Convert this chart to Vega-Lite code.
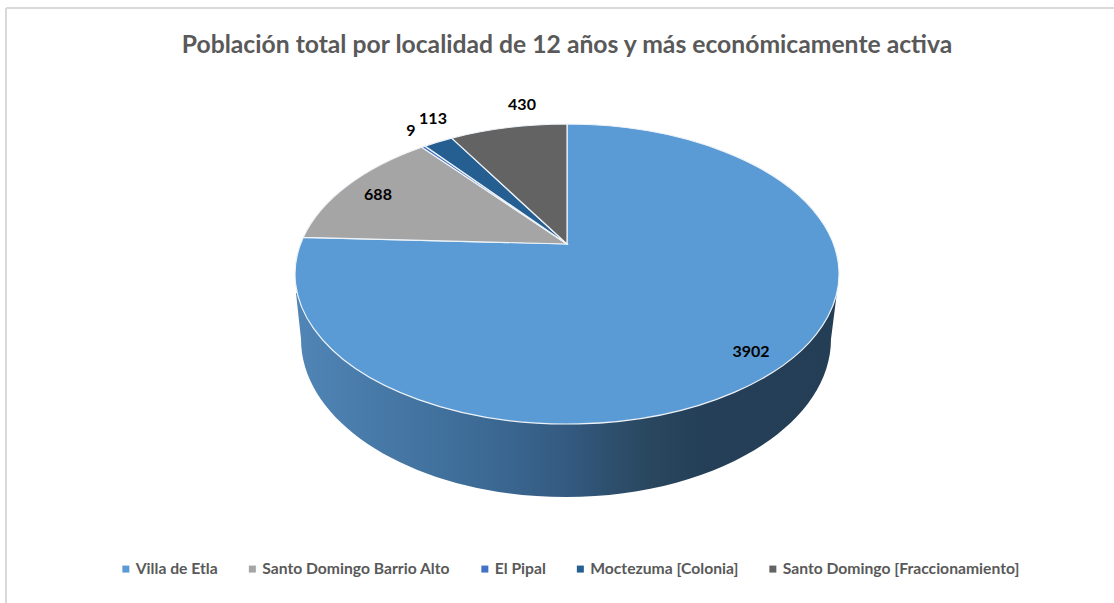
{
"$schema":"https://vega.github.io/schema/vega-lite/v6.json",
"width":1108,"height":595,
"autosize":{"type":"none"},
"padding":{"left":6,"top":8,"right":0,"bottom":0},
"background":"#ffffff",
"view":{"stroke":null},
"title":{"text":"Población total por localidad  de 12 años y más económicamente activa","font":"Lato","fontSize":24.7,"fontWeight":"bold","color":"#595959","anchor":"middle","dx":7,"offset":-71,"baseline":"alphabetic"},
"data":{"values":[
{"localidad":"Villa de Etla","poblacion":3902},
{"localidad":"Santo Domingo Barrio Alto","poblacion":688},
{"localidad":"El Pipal","poblacion":9},
{"localidad":"Moctezuma [Colonia]","poblacion":113},
{"localidad":"Santo Domingo [Fraccionamiento]","poblacion":430}
]},
"layer":[
{"transform":[{"filter":"datum.localidad==='Villa de Etla'"}],"mark":{"type":"rule","color":"#d9d9d9","strokeWidth":2},"encoding":{"x":{"value":0},"x2":{"value":1108},"y":{"value":0}}},
{"transform":[{"filter":"datum.localidad==='Villa de Etla'"}],"mark":{"type":"rule","color":"#d9d9d9","strokeWidth":2},"encoding":{"y":{"value":0},"y2":{"value":595},"x":{"value":0}}},
{"transform":[{"filter":"datum.localidad==='Villa de Etla'"}],
 "mark":{"type":"point","filled":true,"opacity":1,"size":360000,"strokeWidth":0,
  "shape":"M-0.88,-0.04167 L-0.86333,0.11167 A0.88333,0.52667 0 0 0 0.90333,0.11167 L0.92333,-0.045 Z",
  "fill":{"x1":0,"y1":0,"x2":1,"y2":0,"gradient":"linear","stops":[{"offset":0,"color":"#5085b6"},{"offset":0.35,"color":"#3c6a95"},{"offset":0.5,"color":"#345a80"},{"offset":0.65,"color":"#29475f"},{"offset":0.76,"color":"#243f57"},{"offset":1,"color":"#233e55"}]}},
 "encoding":{}},
{"mark":{"type":"point","filled":true,"opacity":1,"size":360000,"stroke":"#eef3f8","strokeWidth":1.2},
 "encoding":{
  "fill":{"field":"localidad","type":"nominal","scale":{"domain":["Villa de Etla","Santo Domingo Barrio Alto","El Pipal","Moctezuma [Colonia]","Santo Domingo [Fraccionamiento]"],"range":["#5b9bd5","#a5a5a5","#4472c4","#255e91","#636363"]},
   "legend":{"title":null,"orient":"none","legendX":112,"legendY":553,"direction":"horizontal","columns":5,"columnPadding":26.5,"symbolType":"square","symbolSize":49,"symbolStrokeWidth":0,"labelFont":"Lato","labelFontSize":15.7,"labelFontWeight":"bold","labelColor":"#595959","labelOffset":2,"labelLimit":400}},
  "shape":{"field":"localidad","type":"nominal","legend":null,"scale":{"domain":["Santo Domingo [Fraccionamiento]","Moctezuma [Colonia]","El Pipal","Santo Domingo Barrio Alto","Villa de Etla"],"range":[
   "M0.02333,-0.205 L-0.361,-0.558 A0.90667,0.5 0 0 1 0.02333,-0.605 Z",
   "M0.02333,-0.205 L-0.45,-0.53133 A0.90667,0.5 0 0 1 -0.361,-0.558 Z",
   "M0.02333,-0.205 L-0.461,-0.52767 A0.90667,0.5 0 0 1 -0.45,-0.53133 Z",
   "M0.02333,-0.205 L-0.85567,-0.22733 A0.90667,0.5 0 0 1 -0.461,-0.52767 Z",
   "M0.02333,-0.205 L0.02333,-0.605 A0.90667,0.5 0 1 1 -0.85567,-0.22733 Z"]}}
 }},
{"transform":[{"filter":"datum.localidad==='Villa de Etla'"}],"mark":{"type":"text","font":"Lato","fontSize":16,"fontWeight":"bold","color":"#000000","dx":191,"dy":46.5},"encoding":{"text":{"field":"poblacion","type":"quantitative","format":"d"}}},
{"transform":[{"filter":"datum.localidad==='Santo Domingo Barrio Alto'"}],"mark":{"type":"text","font":"Lato","fontSize":16,"fontWeight":"bold","color":"#000000","dx":-182,"dy":-110.5},"encoding":{"text":{"field":"poblacion","type":"quantitative","format":"d"}}},
{"transform":[{"filter":"datum.localidad==='El Pipal'"}],"mark":{"type":"text","font":"Lato","fontSize":16,"fontWeight":"bold","color":"#000000","dx":-149,"dy":-174.5},"encoding":{"text":{"field":"poblacion","type":"quantitative","format":"d"}}},
{"transform":[{"filter":"datum.localidad==='Moctezuma [Colonia]'"}],"mark":{"type":"text","font":"Lato","fontSize":16,"fontWeight":"bold","color":"#000000","dx":-127,"dy":-186.5},"encoding":{"text":{"field":"poblacion","type":"quantitative","format":"d"}}},
{"transform":[{"filter":"datum.localidad==='Santo Domingo [Fraccionamiento]'"}],"mark":{"type":"text","font":"Lato","fontSize":16,"fontWeight":"bold","color":"#000000","dx":-38,"dy":-200.5},"encoding":{"text":{"field":"poblacion","type":"quantitative","format":"d"}}}
]
}
